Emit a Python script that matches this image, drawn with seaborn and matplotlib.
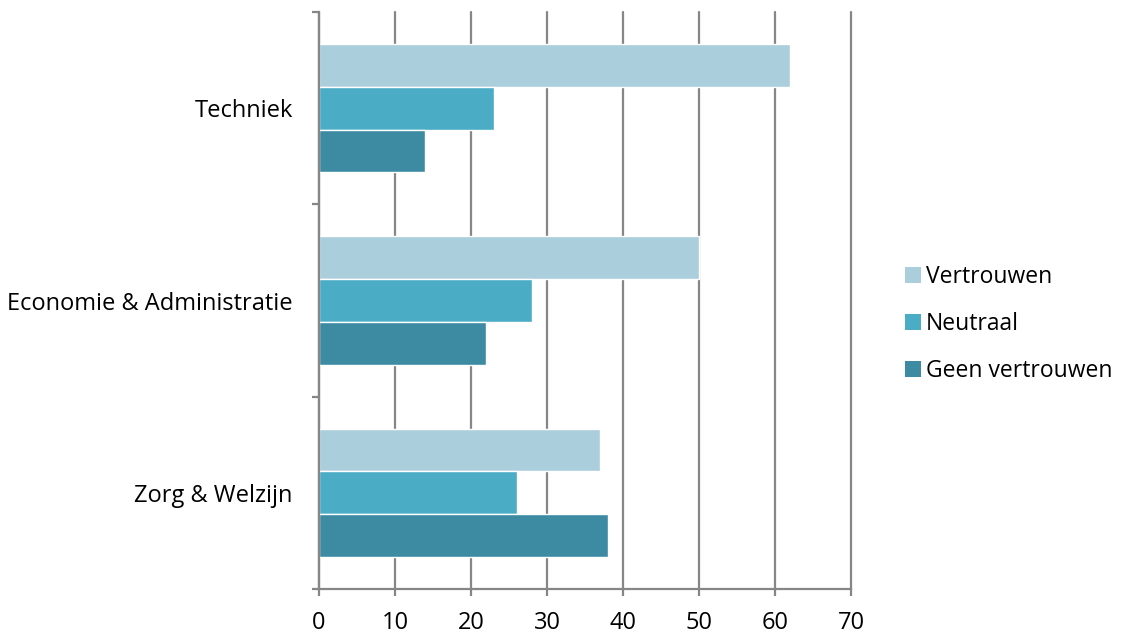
import matplotlib.pyplot as plt
import matplotlib.ticker as mticker
import pandas as pd
import seaborn as sns
from matplotlib.patches import Patch

categories = ["Techniek", "Economie & Administratie", "Zorg & Welzijn"]
series = ["Vertrouwen", "Neutraal", "Geen vertrouwen"]
vertrouwen = [62, 50, 37]
neutraal = [23, 28, 26]
geen_vertrouwen = [14, 22, 38]
x_ticks = [0, 10, 20, 30, 40, 50, 60, 70]

colors = ["#AACEDC", "#4BACC6", "#3D8BA3"]
grid_color = "#868686"
fs = 17

rows = []
for name, vals in zip(series, [vertrouwen, neutraal, geen_vertrouwen]):
    for cat, v in zip(categories, vals):
        rows.append({"category": cat, "series": name, "value": v})
df = pd.DataFrame(rows)

sns.set_style("white")
plt.rcParams["font.family"] = ["Open Sans", "DejaVu Sans"]
plt.rcParams["text.color"] = "black"

fig = plt.figure(figsize=(11.21, 6.35), dpi=100)
ax = fig.add_axes([0.2846, 0.0724, 0.7591 - 0.2846, 0.9811 - 0.0724])

sns.barplot(
    data=df,
    y="category",
    x="value",
    hue="series",
    order=categories,
    hue_order=series,
    palette=colors,
    orient="h",
    width=0.667,
    saturation=1,
    legend=False,
    ax=ax,
)

ax.set_xlim(0, 70)
ax.set_ylim(2.5, -0.5)
ax.set_xticks(x_ticks)
ax.xaxis.grid(True, color=grid_color, linewidth=1.6)
for gl in ax.get_xgridlines():
    gl.set_clip_on(False)
ax.set_axisbelow(True)
ax.set_xlabel("")
ax.set_ylabel("")

for side in ["top", "right"]:
    ax.spines[side].set_visible(False)
for side in ["left", "bottom"]:
    ax.spines[side].set_color(grid_color)
    ax.spines[side].set_linewidth(1.6)

ax.yaxis.set_minor_locator(mticker.FixedLocator([-0.5, 0.5, 1.5, 2.5]))
ax.tick_params(axis="y", which="major", length=0, pad=19, labelsize=fs, labelcolor="black")
ax.tick_params(axis="y", which="minor", length=5, width=1.6, color=grid_color, direction="out", left=True)
ax.tick_params(axis="x", which="major", length=5, width=1.6, color=grid_color, direction="out",
               bottom=True, pad=11, labelsize=fs, labelcolor="black")

handles = [Patch(facecolor=c, edgecolor="none") for c in colors]
fig.legend(
    handles,
    series,
    loc="center left",
    bbox_to_anchor=(0.789, 0.49),
    frameon=False,
    fontsize=16.5,
    labelcolor="black",
    handlelength=0.7,
    handleheight=0.7,
    handletextpad=0.2,
    labelspacing=1.0,
)

fig.savefig("out.png", dpi=100)
